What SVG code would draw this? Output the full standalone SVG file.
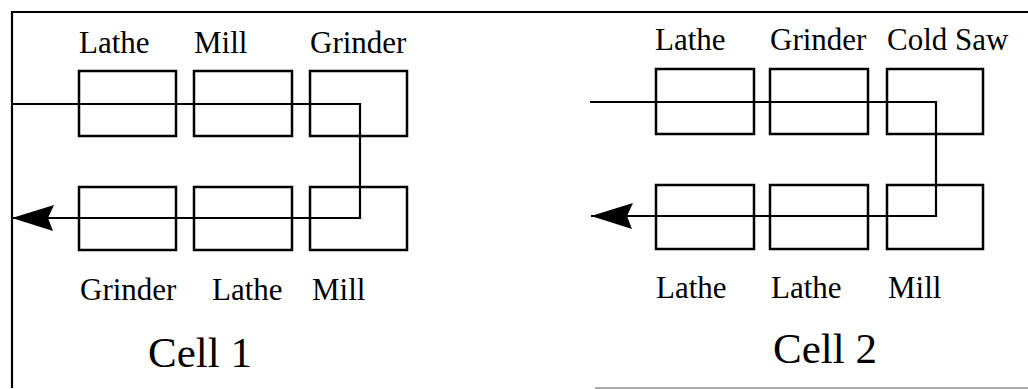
<svg xmlns="http://www.w3.org/2000/svg" width="1028" height="389" viewBox="0 0 1028 389">
<style>
.box{fill:none;stroke:#000;stroke-width:2.5}
.ln{fill:none;stroke:#000;stroke-width:2.2}
.lbl{font-family:'Liberation Serif','Times New Roman',serif;font-size:31px;fill:#000}
.cell{font-family:'Liberation Serif','Times New Roman',serif;font-size:43px;fill:#000}
</style>
<defs>
<marker id="ah" markerUnits="userSpaceOnUse" markerWidth="44" markerHeight="28" refX="42" refY="13" orient="auto" viewBox="0 0 44 28">
<path d="M42,13 L1,0 L6,13 L0,26 Z" fill="#000"/>
</marker>
</defs>
<rect width="1028" height="389" fill="#fff"/>
<g id="frame">
<path class="ln" d="M12,388 V12 H1028"/>
<path d="M595,388 H1028" stroke="#aaa" stroke-width="2" fill="none"/>
</g>
<g id="cell1">
<g id="c1-lathe-top"><rect class="box" x="79" y="71" width="97" height="65"/><text class="lbl" x="79" y="53">Lathe</text></g>
<g id="c1-mill-top"><rect class="box" x="194" y="71" width="98" height="65"/><text class="lbl" x="194" y="53">Mill</text></g>
<g id="c1-grinder-top"><rect class="box" x="310" y="71" width="97" height="65"/><text class="lbl" x="310" y="53">Grinder</text></g>
<g id="c1-grinder-bot"><rect class="box" x="79" y="187" width="97" height="63"/><text class="lbl" x="80" y="300">Grinder</text></g>
<g id="c1-lathe-bot"><rect class="box" x="194" y="187" width="98" height="63"/><text class="lbl" x="212" y="300">Lathe</text></g>
<g id="c1-mill-bot"><rect class="box" x="310" y="187" width="97" height="63"/><text class="lbl" x="312" y="300">Mill</text></g>
<text class="cell" x="148" y="367">Cell 1</text>
</g>
<g id="cell2">
<g id="c2-lathe-top"><rect class="box" x="656" y="69" width="98" height="65"/><text class="lbl" x="655" y="50">Lathe</text></g>
<g id="c2-grinder-top"><rect class="box" x="770" y="69" width="98" height="65"/><text class="lbl" x="770" y="50">Grinder</text></g>
<g id="c2-coldsaw-top"><rect class="box" x="887" y="69" width="96" height="65"/><text class="lbl" x="887" y="50">Cold Saw</text></g>
<g id="c2-lathe-bot1"><rect class="box" x="656" y="185" width="98" height="64"/><text class="lbl" x="656" y="298">Lathe</text></g>
<g id="c2-lathe-bot2"><rect class="box" x="770" y="185" width="98" height="64"/><text class="lbl" x="771" y="298">Lathe</text></g>
<g id="c2-mill-bot"><rect class="box" x="887" y="185" width="96" height="64"/><text class="lbl" x="888" y="298">Mill</text></g>
<text class="cell" x="773" y="363">Cell 2</text>
</g>
<g id="connectors">
<path class="ln" d="M12,104 H360 V218 H12" marker-end="url(#ah)"/>
<path class="ln" d="M590,102 H936 V216 H591" marker-end="url(#ah)"/>
</g>
</svg>
